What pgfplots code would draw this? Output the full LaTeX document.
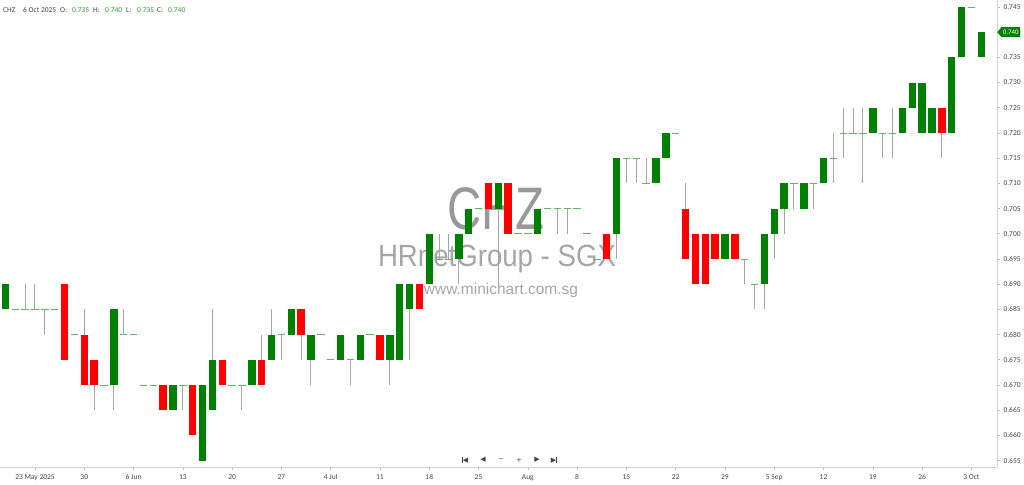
\documentclass[border=0pt]{standalone}
\usepackage{fontspec}
\setmainfont{Carlito}
\newfontfamily\wmfont{Liberation Sans}
\newfontfamily\djv{DejaVu Sans}
\usepackage{pgfplots}
\usepackage{pgfplotstable}
\pgfplotsset{compat=1.18}
\usetikzlibrary{shapes.symbols}
\definecolor{cgreen}{RGB}{0,128,0}
\definecolor{cred}{RGB}{255,0,0}
\definecolor{cdoji}{RGB}{100,180,100}
\definecolor{cwick}{RGB}{165,165,165}
\definecolor{cval}{RGB}{40,160,40}
\definecolor{ctxt}{RGB}{70,70,70}

\pgfplotstableread{
i O H L C
0 0.685 0.690 0.685 0.690
1 0.685 0.685 0.685 0.685
2 0.685 0.690 0.685 0.685
3 0.685 0.690 0.685 0.685
4 0.685 0.685 0.680 0.685
5 0.685 0.685 0.685 0.685
6 0.690 0.690 0.675 0.675
7 0.680 0.680 0.680 0.680
8 0.680 0.685 0.670 0.670
9 0.675 0.675 0.665 0.670
10 0.670 0.670 0.670 0.670
11 0.670 0.685 0.665 0.685
12 0.680 0.685 0.680 0.680
13 0.680 0.680 0.680 0.680
14 0.670 0.670 0.670 0.670
15 0.670 0.670 0.670 0.670
16 0.670 0.670 0.665 0.665
17 0.665 0.670 0.665 0.670
18 0.670 0.670 0.665 0.670
19 0.670 0.670 0.660 0.660
20 0.655 0.670 0.655 0.670
21 0.665 0.685 0.665 0.675
22 0.675 0.675 0.670 0.670
23 0.670 0.670 0.670 0.670
24 0.670 0.670 0.665 0.670
25 0.670 0.675 0.670 0.675
26 0.675 0.680 0.670 0.670
27 0.675 0.685 0.675 0.680
28 0.680 0.680 0.675 0.680
29 0.680 0.685 0.680 0.685
30 0.685 0.685 0.675 0.680
31 0.675 0.680 0.670 0.680
32 0.680 0.680 0.680 0.680
33 0.675 0.675 0.675 0.675
34 0.675 0.680 0.675 0.680
35 0.675 0.675 0.670 0.675
36 0.675 0.680 0.675 0.680
37 0.680 0.680 0.680 0.680
38 0.680 0.680 0.675 0.675
39 0.675 0.680 0.670 0.680
40 0.675 0.690 0.675 0.690
41 0.685 0.690 0.675 0.690
42 0.690 0.690 0.685 0.685
43 0.690 0.700 0.690 0.700
44 0.695 0.700 0.695 0.695
45 0.695 0.700 0.695 0.695
46 0.695 0.700 0.690 0.700
47 0.700 0.705 0.700 0.705
48 0.705 0.705 0.705 0.705
49 0.710 0.710 0.705 0.705
50 0.705 0.710 0.690 0.710
51 0.710 0.710 0.700 0.700
52 0.700 0.700 0.700 0.700
53 0.700 0.700 0.700 0.700
54 0.700 0.705 0.700 0.705
55 0.705 0.705 0.705 0.705
56 0.705 0.705 0.700 0.705
57 0.705 0.705 0.700 0.705
58 0.705 0.705 0.705 0.705
59 0.700 0.700 0.700 0.700
60 0.695 0.695 0.695 0.695
61 0.700 0.700 0.695 0.695
62 0.700 0.715 0.695 0.715
63 0.715 0.715 0.710 0.715
64 0.715 0.715 0.710 0.715
65 0.710 0.715 0.710 0.710
66 0.710 0.715 0.710 0.715
67 0.715 0.720 0.715 0.720
68 0.720 0.720 0.720 0.720
69 0.705 0.710 0.695 0.695
70 0.700 0.700 0.690 0.690
71 0.700 0.700 0.690 0.690
72 0.700 0.700 0.695 0.695
73 0.695 0.700 0.695 0.700
74 0.700 0.700 0.695 0.695
75 0.695 0.695 0.690 0.695
76 0.690 0.690 0.685 0.690
77 0.690 0.700 0.685 0.700
78 0.700 0.705 0.695 0.705
79 0.705 0.710 0.700 0.710
80 0.710 0.710 0.705 0.710
81 0.705 0.710 0.705 0.710
82 0.710 0.710 0.705 0.710
83 0.710 0.715 0.710 0.715
84 0.715 0.720 0.710 0.715
85 0.720 0.725 0.715 0.720
86 0.720 0.725 0.720 0.720
87 0.720 0.725 0.710 0.720
88 0.720 0.725 0.720 0.725
89 0.720 0.720 0.715 0.720
90 0.720 0.725 0.715 0.720
91 0.720 0.725 0.720 0.725
92 0.725 0.730 0.725 0.730
93 0.720 0.730 0.720 0.730
94 0.720 0.725 0.720 0.725
95 0.725 0.725 0.715 0.720
96 0.720 0.735 0.720 0.735
97 0.735 0.745 0.735 0.745
98 0.745 0.745 0.745 0.745
99 0.735 0.740 0.735 0.740
}\candles

\begin{document}
\begin{tikzpicture}[x=1pt,y=1pt]
% watermark (behind the candles)
\node[anchor=base, text=gray!80, font=\wmfont\fontsize{60}{60}\selectfont, xscale=0.79, inner sep=0pt] at (496,254) {CHZ};
\node[anchor=base, text=gray!70, font=\wmfont\fontsize{30.7}{31}\selectfont, xscale=0.9, inner sep=0pt] at (497,217) {HRnetGroup - SGX};
\node[anchor=base, text=gray!70, font=\wmfont\fontsize{15.5}{16}\selectfont, inner sep=0pt] at (501,189) {www.minichart.com.sg};

\begin{axis}[
  at={(0pt,17pt)}, anchor=south west,
  scale only axis, width=997pt, height=467pt,
  xmin=-0.55, xmax=100.6, ymin=0.65373, ymax=0.74639,
  clip=false,
  axis x line*=bottom, axis y line*=right,
  axis line style={draw=gray!35, line width=0.8pt},
  tick style={draw=gray!55, line width=0.6pt},
  tick align=outside, major tick length=3pt,
  xtick={3,8,13,18,23,28,33,38,43,48,53,58,63,68,73,78,83,88,93,98},
  xticklabels={23 May 2025,30,6 Jun,13,20,27,4 Jul,11,18,25,Aug,8,15,22,29,5 Sep,12,19,26,3 Oct},
  ytick={0.655,0.660,...,0.746},
  ticklabel style={font=\fontsize{7.5}{8}\selectfont, text=ctxt},
  yticklabel style={/pgf/number format/.cd, fixed, fixed zerofill, precision=3, assume math mode=true},
  xticklabel style={yshift=-1pt},
  axis on top=false,
]
% wicks
\addplot[forget plot, draw=none, mark=none,
  restrict expr to domain={\thisrow{H}-\thisrow{L}}{0.0001:1},
  error bars/.cd, y dir=both, y explicit, error mark=none,
  error bar style={line width=1pt, draw=cwick}]
  table[x=i, y expr={(\thisrow{H}+\thisrow{L})/2}, y error expr={(\thisrow{H}-\thisrow{L})/2}] {\candles};
% doji
\addplot[forget plot, only marks, mark=-, mark size=3.7pt,
  mark options={draw=cdoji, line width=0.9pt},
  restrict expr to domain={abs(\thisrow{C}-\thisrow{O})}{0:0.0001}]
  table[x=i, y=C] {\candles};
% green bodies
\addplot[forget plot, draw=none, mark=none,
  restrict expr to domain={\thisrow{C}-\thisrow{O}}{0.0001:1},
  error bars/.cd, y dir=both, y explicit, error mark=none,
  error bar style={line width=7.4pt, draw=cgreen}]
  table[x=i, y expr={(\thisrow{O}+\thisrow{C})/2}, y error expr={abs(\thisrow{C}-\thisrow{O})/2}] {\candles};
% red bodies
\addplot[forget plot, draw=none, mark=none,
  restrict expr to domain={\thisrow{O}-\thisrow{C}}{0.0001:1},
  error bars/.cd, y dir=both, y explicit, error mark=none,
  error bar style={line width=7.4pt, draw=cred}]
  table[x=i, y expr={(\thisrow{O}+\thisrow{C})/2}, y error expr={abs(\thisrow{C}-\thisrow{O})/2}] {\candles};
% price tag
\node[signal, signal to=west, signal pointer angle=100, fill=cgreen, text=white,
  font=\fontsize{7}{8}\selectfont, inner sep=1.3pt, anchor=west, minimum height=10pt]
  at (axis cs:100.6,0.740) {0.740};
\end{axis}

% header
\begin{scope}[every node/.style={anchor=base west, inner sep=0pt, font=\fontsize{7.5}{8}\selectfont}]
\node[text=ctxt] at (3,471.5) {CHZ};
\node[text=ctxt] at (23,471.5) {6 Oct 2025};
\node[text=ctxt] at (60,471.5) {O:};
\node[text=cval] at (72,471.5) {0.735};
\node[text=ctxt] at (93,471.5) {H:};
\node[text=cval] at (105,471.5) {0.740};
\node[text=ctxt] at (126,471.5) {L:};
\node[text=cval] at (137,471.5) {0.735};
\node[text=ctxt] at (157,471.5) {C:};
\node[text=cval] at (168,471.5) {0.740};
\end{scope}

% navigation icons
\begin{scope}[every node/.style={inner sep=0pt, text=ctxt, font=\djv\fontsize{7}{7}\selectfont}]
\node at (465,24) {\rule{0.9pt}{6pt}\kern0.2pt\char"25C0};
\node at (483,24) {\char"25C0};
\node at (501,24) {\char"2212};
\node at (519,24) {+};
\node at (537,24) {\char"25B6};
\node at (554,24) {\char"25B6\kern0.2pt\rule{0.9pt}{6pt}};
\end{scope}

\pgfresetboundingbox
\useasboundingbox (0,0) rectangle (1024,484);
\end{tikzpicture}
\end{document}
